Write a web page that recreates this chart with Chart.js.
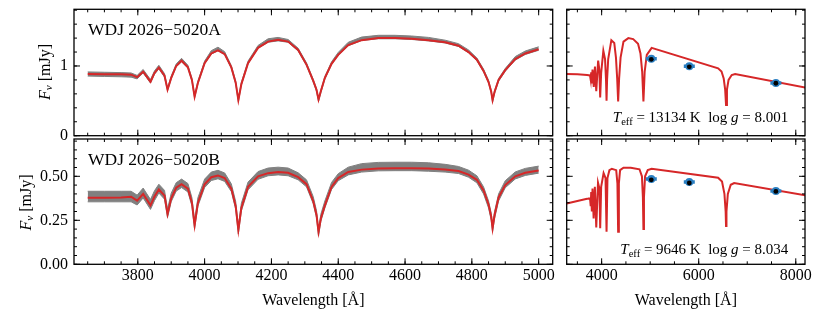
<!DOCTYPE html>
<html>
<head>
<meta charset="utf-8">
<script src="https://cdn.jsdelivr.net/npm/chart.js@4.4.1/dist/chart.umd.min.js"></script>
<style>
  body { margin: 0; background: #fff; }
  #wrap { position: relative; width: 830px; height: 312px; }
  canvas { position: absolute; }
</style>
</head>
<body>
<div id="wrap">
  <canvas id="cA" width="560" height="140" style="left:0;top:0"></canvas>
  <canvas id="cB" width="560" height="176" style="left:0;top:136px"></canvas>
  <canvas id="cAf" width="274" height="150" style="left:556px;top:0"></canvas>
  <canvas id="cBf" width="274" height="186" style="left:556px;top:126px"></canvas>
</div>
<script>
// wavelength grid of the optical spectra
var waveOpt = [3650,3700,3750,3780,3798,3816,3838,3850,3863,3880,
               3889,3900,3915,3931,3950,3962,3970,3980,4000,4020,
               4040,4060,4080,4093,4101,4110,4130,4160,4190,4220,
               4250,4280,4305,4325,4335,4341,4348,4360,4380,4400,
               4430,4470,4520,4570,4620,4670,4720,4760,4790,4815,
               4835,4850,4858,4862,4868,4880,4900,4930,4960,5000];

// WDJ 2026-5020A : model fit, observed flux, spread of the grey noise
var modelA = [.885,.882,.88,.875,.84,.918,.775,.90,.975,.86,
              .66,.83,1.00,1.075,.98,.80,.56,.76,1.04,1.18,
              1.225,1.17,.98,.76,.51,.74,1.04,1.26,1.35,1.375,
              1.35,1.23,1.02,.79,.66,.52,.64,.83,1.03,1.16,
              1.30,1.37,1.40,1.40,1.39,1.37,1.34,1.29,1.20,1.09,
              .93,.77,.63,.51,.63,.80,.94,1.10,1.18,1.24];
var obsA = [.885,.88,.875,.87,.84,.925,.78,.905,.985,.865,
            .665,.835,1.01,1.085,.99,.805,.56,.765,1.05,1.195,
            1.245,1.185,.985,.765,.505,.745,1.05,1.275,1.365,1.385,
            1.36,1.235,1.025,.79,.655,.51,.635,.83,1.04,1.175,
            1.315,1.39,1.415,1.415,1.405,1.385,1.35,1.30,1.21,1.095,
            .935,.775,.63,.50,.625,.80,.945,1.11,1.19,1.25];
var noiseA = [.03,.03,.03,.03,.025,.025,.025,.025,.025,.025,
              .02,.02,.02,.025,.02,.02,.02,.02,.02,.025,
              .025,.02,.02,.02,.02,.02,.02,.02,.025,.025,
              .02,.02,.02,.02,.02,.02,.02,.02,.02,.02,
              .025,.025,.025,.025,.025,.025,.02,.02,.02,.02,
              .02,.02,.02,.02,.02,.02,.02,.025,.025,.025];

// WDJ 2026-5020B
var modelB = [.378,.378,.38,.384,.362,.40,.335,.385,.425,.39,
              .285,.375,.435,.455,.43,.35,.222,.35,.455,.495,
              .505,.49,.43,.33,.195,.32,.44,.50,.518,.525,
              .52,.495,.455,.36,.28,.185,.26,.335,.44,.49,
              .525,.538,.544,.546,.546,.544,.538,.53,.51,.48,
              .42,.34,.27,.205,.28,.38,.45,.50,.52,.533];
var obsB = [.385,.385,.385,.385,.365,.405,.34,.39,.43,.395,
            .29,.38,.44,.46,.435,.355,.225,.355,.46,.50,
            .51,.495,.435,.335,.195,.325,.445,.505,.525,.53,
            .525,.50,.46,.365,.285,.18,.265,.34,.445,.495,
            .53,.548,.555,.556,.556,.553,.546,.536,.515,.483,
            .42,.34,.27,.205,.28,.38,.455,.505,.525,.538];
var noiseB = [.03,.03,.03,.03,.028,.028,.028,.028,.025,.025,
              .024,.024,.024,.024,.024,.024,.024,.024,.024,.024,
              .024,.024,.022,.022,.022,.022,.022,.022,.022,.022,
              .022,.02,.02,.02,.02,.02,.02,.02,.02,.02,
              .022,.024,.024,.024,.024,.024,.022,.02,.02,.02,
              .02,.02,.02,.02,.02,.02,.02,.02,.02,.02];

// full model spectra (right panels)
var waveFullA = [3280,3500,3700,3760,3775,3785,3798,3812,3838,3862,
                 3889,3928,3952,3970,3990,4035,4070,4090,4101,4112,
                 4135,4200,4260,4295,4320,4340,4360,4390,4450,4550,
                 4650,4750,4800,4835,4861,4887,4930,5030,6400,6470,
                 6515,6545,6563,6582,6615,6680,6750,8200];
var modelFullA = [.885,.88,.872,.865,.80,.91,.75,.95,.70,.99,
                  .64,1.076,.95,.55,.90,1.22,1.10,.80,.50,.80,
                  1.10,1.37,1.33,1.12,.82,.49,.82,1.12,1.35,1.40,
                  1.385,1.32,1.18,.92,.49,.92,1.16,1.26,.967,.92,
                  .82,.66,.44,.66,.80,.87,.885,.69];
var waveFullB = [3280,3500,3700,3760,3775,3785,3798,3812,3835,3860,
                 3889,3925,3955,3970,3990,4040,4080,4101,4120,4160,
                 4210,4300,4325,4340,4355,4380,4450,4600,4780,4830,
                 4850,4861,4872,4895,4950,5030,6400,6480,6530,6555,
                 6563,6572,6600,6660,6730,8200];
var modelFullB = [.345,.36,.372,.377,.33,.41,.30,.43,.26,.44,
                  .21,.464,.43,.205,.44,.518,.49,.185,.49,.535,
                  .543,.535,.46,.185,.46,.535,.549,.549,.54,.50,
                  .38,.20,.38,.50,.535,.543,.492,.47,.40,.30,
                  .218,.30,.40,.452,.462,.392];

// Gaia photometry: synthetic (blue) and observed (black)
var photWave = [5023, 5806, 7590];
var photSynA = [1.105, 0.995, 0.757];
var photObsA = [1.096, 0.988, 0.752];
var photSynB = [0.484, 0.467, 0.417];
var photObsB = [0.480, 0.462, 0.414];

// tick labels
var yTicksA = [0, 1];
var yTicksB = [0, 0.25, 0.5];
var xTicksOpt = [3800, 4000, 4200, 4400, 4600, 4800, 5000];
var xTicksFull = [4000, 6000, 8000];

var RED = '#d62728';
var GREY = '#808080';
var BLUE = '#2a7fc2';
var FONT = '"Liberation Serif", "DejaVu Serif", serif';

function pts(xs, ys) {
  return xs.map(function (x, i) { return {x: x, y: ys[i]}; });
}
function edge(obs, err, s) {
  return obs.map(function (v, i) { return v + s * err[i]; });
}

// grey observed band + red model
function specSets(obs, err, model) {
  return [
    {data: pts(waveOpt, edge(obs, err, -1)), borderColor: GREY, borderWidth: 1, pointRadius: 0, fill: false, order: 3},
    {data: pts(waveOpt, edge(obs, err, 1)), borderColor: GREY, borderWidth: 1, pointRadius: 0, fill: '-1', backgroundColor: GREY, order: 2},
    {data: pts(waveOpt, model), borderColor: RED, borderWidth: 2, pointRadius: 0, fill: false, order: 1}
  ];
}
// model + photometry points
function fullSets(wave, model, syn, obs) {
  return [
    {data: pts(wave, model), borderColor: RED, borderWidth: 2, pointRadius: 0, fill: false, order: 4},
    {data: pts(photWave, syn), showLine: false, pointStyle: 'line', pointRadius: 5.5, pointBorderWidth: 3.5, pointBorderColor: BLUE, order: 3},
    {data: pts(photWave, syn), showLine: false, pointRadius: 4, pointBackgroundColor: BLUE, pointBorderColor: BLUE, pointBorderWidth: 0, order: 2},
    {data: pts(photWave, obs), showLine: false, pointRadius: 2.4, pointBackgroundColor: '#000', pointBorderColor: '#000', pointBorderWidth: 0, order: 1}
  ];
}

// draw text made of pieces (italic / subscript)
function pieceFont(p, size) {
  return (p.it ? 'italic ' : '') + (p.sub ? size * 0.7 : size) + 'px ' + FONT;
}
function drawPieces(ctx, parts, x, y, size, align) {
  var w = 0;
  parts.forEach(function (p) { ctx.font = pieceFont(p, size); w += ctx.measureText(p.t).width; });
  var cx = align === 'right' ? x - w : (align === 'center' ? x - w / 2 : x);
  parts.forEach(function (p) {
    ctx.font = pieceFont(p, size);
    ctx.fillText(p.t, cx, y + (p.sub ? size * 0.22 : 0));
    cx += ctx.measureText(p.t).width;
  });
}
var fnuTitle = [{t: 'F', it: true}, {t: 'ν', it: true, sub: true}, {t: ' [mJy]'}];

// inward ticks, frame and texts
var deco = {
  id: 'deco',
  afterDraw: function (chart, args, o) {
    var ctx = chart.ctx, a = chart.chartArea, sx = chart.scales.x, sy = chart.scales.y;
    ctx.save();
    ctx.strokeStyle = '#000';
    ctx.lineWidth = 1;
    ctx.beginPath();
    function tx(v, len) {
      var p = sx.getPixelForValue(v);
      ctx.moveTo(p, a.bottom); ctx.lineTo(p, a.bottom - len);
      ctx.moveTo(p, a.top); ctx.lineTo(p, a.top + len);
    }
    function ty(v, len) {
      var p = sy.getPixelForValue(v);
      ctx.moveTo(a.left, p); ctx.lineTo(a.left + len, p);
      ctx.moveTo(a.right, p); ctx.lineTo(a.right - len, p);
    }
    var i;
    for (i = Math.ceil(sx.min / o.xMinor); i * o.xMinor <= sx.max; i++) tx(i * o.xMinor, 3);
    for (i = Math.ceil(sy.min / o.yMinor); i * o.yMinor <= sy.max + 1e-9; i++) ty(i * o.yMinor, 3);
    o.xMajor.forEach(function (v) { tx(v, 6); });
    o.yMajor.forEach(function (v) { ty(v, 6); });
    ctx.stroke();
    ctx.lineWidth = 1.3;
    ctx.strokeRect(a.left, a.top, a.right - a.left, a.bottom - a.top);

    ctx.fillStyle = '#000';
    ctx.textBaseline = 'alphabetic';
    if (o.label) {
      ctx.font = '17.5px ' + FONT;
      ctx.textAlign = 'left';
      ctx.fillText(o.label, a.left + 14, a.top + 26);
    }
    ctx.textAlign = 'left';
    if (o.note) drawPieces(ctx, o.note, a.right - 16.7, a.top + o.noteY, 15, 'right');
    if (o.yTitle) {
      ctx.save();
      ctx.translate(o.yTitle[0], o.yTitle[1]);
      ctx.rotate(-Math.PI / 2);
      ctx.textBaseline = 'middle';
      drawPieces(ctx, fnuTitle, 0, 0, 16, 'center');
      ctx.restore();
    }
    if (o.xTitle) {
      ctx.font = '16px ' + FONT;
      ctx.textAlign = 'center';
      ctx.textBaseline = 'middle';
      ctx.fillText('Wavelength [Å]', (a.left + a.right) / 2, o.xTitle);
    }
    ctx.restore();
  }
};

function makeChart(id, c) {
  return new Chart(document.getElementById(id), {
    type: 'line',
    data: {datasets: c.sets},
    options: {
      responsive: false,
      animation: false,
      events: [],
      layout: {padding: c.pad},
      plugins: {legend: {display: false}, tooltip: {enabled: false}, deco: c.deco},
      scales: {
        x: {
          type: 'linear', min: c.xmin, max: c.xmax,
          afterBuildTicks: function (s) { s.ticks = c.xTicks.map(function (v) { return {value: v}; }); },
          afterFit: function (s) { s.height = c.xh; s.paddingLeft = 0; s.paddingRight = 0; },
          ticks: {display: c.showX, autoSkip: false, maxRotation: 0, padding: 2, color: '#000',
                  font: {family: FONT, size: 16}, callback: function (v) { return String(v); }},
          grid: {display: false, drawTicks: false},
          border: {display: false}
        },
        y: {
          type: 'linear', min: 0, max: c.ymax, display: c.showY,
          afterBuildTicks: function (s) { s.ticks = c.yTicks.map(function (v) { return {value: v}; }); },
          afterFit: function (s) { s.width = c.yw; s.paddingTop = 0; s.paddingBottom = 0; },
          ticks: {padding: 6, color: '#000', font: {family: FONT, size: 16}, callback: c.yFmt},
          grid: {display: false, drawTicks: false},
          border: {display: false}
        }
      }
    },
    plugins: [deco]
  });
}

// top left: spectrum A
makeChart('cA', {
  sets: specSets(obsA, noiseA, modelA),
  xmin: 3609, xmax: 5042, xTicks: xTicksOpt, showX: false, xh: 0,
  ymax: 1.813, yTicks: yTicksA, showY: true, yw: 74, yFmt: function (v) { return String(v); },
  pad: {left: 0, top: 9.3, right: 7.3, bottom: 4.3},
  deco: {xMinor: 50, yMinor: 0.2, xMajor: xTicksOpt, yMajor: yTicksA, label: 'WDJ 2026−5020A', yTitle: [46, 72]}
});

// bottom left: spectrum B
makeChart('cB', {
  sets: specSets(obsB, noiseB, modelB),
  xmin: 3609, xmax: 5042, xTicks: xTicksOpt, showX: true, xh: 47.7,
  ymax: 0.712, yTicks: yTicksB, showY: true, yw: 74, yFmt: function (v) { return v.toFixed(2); },
  pad: {left: 0, top: 3, right: 7.3, bottom: 0},
  deco: {xMinor: 50, yMinor: 0.05, xMajor: xTicksOpt, yMajor: yTicksB, label: 'WDJ 2026−5020B', yTitle: [26.5, 66.5], xTitle: 165}
});

// top right: model A + photometry
makeChart('cAf', {
  sets: fullSets(waveFullA, modelFullA, photSynA, photObsA),
  xmin: 3280, xmax: 8190, xTicks: xTicksFull, showX: false, xh: 0,
  ymax: 1.813, yTicks: yTicksA, showY: false, yw: 0,
  pad: {left: 10.7, top: 9.3, right: 25, bottom: 14.3},
  deco: {xMinor: 500, yMinor: 0.2, xMajor: xTicksFull, yMajor: yTicksA, noteY: 112.2,
         note: [{t: 'T', it: true}, {t: 'eff', sub: true}, {t: ' = 13134 K  log '}, {t: 'g', it: true}, {t: ' = 8.001'}]}
});

// bottom right: model B + photometry
makeChart('cBf', {
  sets: fullSets(waveFullB, modelFullB, photSynB, photObsB),
  xmin: 3280, xmax: 8190, xTicks: xTicksFull, showX: true, xh: 47.7,
  ymax: 0.712, yTicks: yTicksB, showY: false, yw: 0,
  pad: {left: 10.7, top: 13, right: 25, bottom: 0},
  deco: {xMinor: 500, yMinor: 0.05, xMajor: xTicksFull, yMajor: yTicksB, noteY: 114.5, xTitle: 175,
         note: [{t: 'T', it: true}, {t: 'eff', sub: true}, {t: ' = 9646 K  log '}, {t: 'g', it: true}, {t: ' = 8.034'}]}
});
</script>
</body>
</html>
